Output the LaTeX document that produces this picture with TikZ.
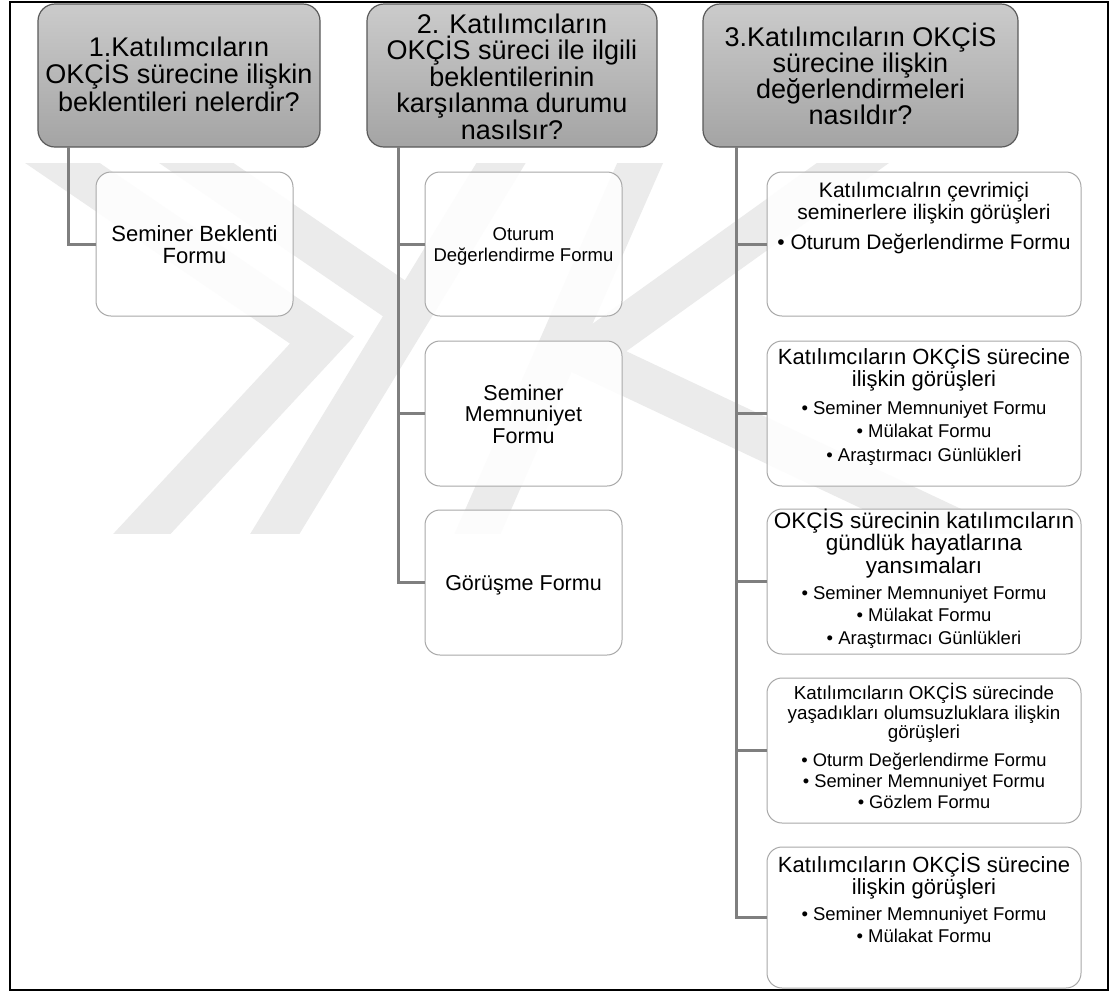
\documentclass[tikz,border=0pt]{standalone}
\usepackage{fontspec}
\setmainfont{Liberation Sans}
\definecolor{hdrtop}{HTML}{CBCBCB}
\definecolor{hdrbot}{HTML}{A4A4A4}
\definecolor{hdrline}{HTML}{5A5A5A}
\definecolor{kidline}{HTML}{A8A8A8}
\definecolor{connc}{HTML}{7F7F7F}
\definecolor{wm}{HTML}{EBEBEB}
\begin{document}
\begin{tikzpicture}[x=1pt,y=-1pt,
  hdr/.style={draw=hdrline, line width=1.2pt, rounded corners=17pt, top color=hdrtop, bottom color=hdrbot, inner sep=0pt},
  kid/.style={draw=kidline, line width=1pt, rounded corners=15pt, fill=white, fill opacity=0.85, inner sep=0pt},
  conn/.style={draw=connc, line width=3pt},
  wmk/.style={draw=wm, line width=42pt, line join=miter},
  tx/.style={anchor=base, inner sep=0pt, text=black},
  hf/.style={tx, font=\fontsize{27}{27}\selectfont},
  fa/.style={tx, font=\fontsize{22}{22}\selectfont},
  fb/.style={tx, font=\fontsize{18.5}{18.5}\selectfont},
  fc/.style={tx, font=\fontsize{21.5}{21.5}\selectfont},
  fd/.style={tx, font=\fontsize{21}{21}\selectfont},
  fe/.style={tx, font=\fontsize{22.5}{22.5}\selectfont},
  ff/.style={tx, font=\fontsize{18.8}{18.8}\selectfont},
  fg/.style={tx, font=\fontsize{18.3}{18.3}\selectfont}
]
\useasboundingbox (0,0) rectangle (1111,994);
\fill[white] (0,0) rectangle (1111,994);

% watermark
\begin{scope}
\clip (10,163) rectangle (1108,533);
\draw[wmk] (36,145) -- (322,340) -- (126,551);
\draw[wmk] (170,145) -- (411,310);
\draw[wmk] (265,550) -- (512,145);
\draw[wmk] (648,145) -- (470,551);
\draw[wmk] (878,145) -- (585,355) -- (1001,551);
\end{scope}

% outer frame
\draw[line width=1.5pt, black] (10,2) rectangle (1108,990);

% header boxes
\node[hdr, minimum width=282pt, minimum height=143pt] (h1) at (179,75.5) {};
\node[hdr, minimum width=290pt, minimum height=143pt] (h2) at (512,75.5) {};
\node[hdr, minimum width=315pt, minimum height=143pt] (h3) at (860.5,75.5) {};

% connector anchors
\coordinate (v1) at (68,147);
\coordinate (v2) at (398,147);
\coordinate (v3) at (736,147);

% child boxes
\node[kid, minimum width=197pt, minimum height=144pt] (c1) at (194.5,244) {};
\node[kid, minimum width=197pt, minimum height=144pt] (c2a) at (523.5,244) {};
\node[kid, minimum width=197pt, minimum height=145pt] (c2b) at (523.5,413.5) {};
\node[kid, minimum width=197pt, minimum height=145pt] (c2c) at (523.5,582.5) {};
\node[kid, minimum width=314pt, minimum height=144pt] (c3a) at (924,244) {};
\node[kid, minimum width=314pt, minimum height=145pt] (c3b) at (924,413.5) {};
\node[kid, minimum width=314pt, minimum height=145pt] (c3c) at (924,581.5) {};
\node[kid, minimum width=314pt, minimum height=145pt] (c3d) at (924,750.5) {};
\node[kid, minimum width=314pt, minimum height=141pt] (c3e) at (924,917.5) {};

% connectors
\draw[conn] (v1) |- (c1.west);
\draw[conn] (v2) |- (c2a.west);
\draw[conn] (v2) |- (c2b.west);
\draw[conn] (v2) |- (c2c.west);
\draw[conn] (v3) |- (c3a.west);
\draw[conn] (v3) |- (c3b.west);
\draw[conn] (v3) |- (c3c.west);
\draw[conn] (v3) |- (c3d.west);
\draw[conn] (v3) |- (c3e.west);

% header texts
\node[hf] (h1a) at (179,56) {1.Katılımcıların};
\node[hf] (h1b) at (179,83.5) {OKÇİS sürecine ilişkin};
\node[hf] (h1c) at (179,111) {beklentileri nelerdir?};

\node[hf] (h2a) at (512,33) {2. Katılımcıların};
\node[hf] (h2b) at (512,59.5) {OKÇİS süreci ile ilgili};
\node[hf] (h2c) at (512,86) {beklentilerinin};
\node[hf] (h2d) at (512,112.5) {karşılanma durumu};
\node[hf] (h2e) at (512,139) {nasılsır?};

\node[hf] (h3a) at (860.5,46) {3.Katılımcıların OKÇİS};
\node[hf] (h3b) at (860.5,72) {sürecine ilişkin};
\node[hf] (h3c) at (860.5,98) {değerlendirmeleri};
\node[hf] (h3d) at (860.5,124) {nasıldır?};

% column 1
\node[fa] (t1a) at (194.5,241) {Seminer Beklenti};
\node[fa] (t1b) at (194.5,263) {Formu};

% column 2
\node[fb] (t2a1) at (523.5,240) {Oturum};
\node[fb] (t2a2) at (523.5,261) {Değerlendirme Formu};
\node[fc] (t2b1) at (523.5,400) {Seminer};
\node[fc] (t2b2) at (523.5,421.5) {Memnuniyet};
\node[fc] (t2b3) at (523.5,443) {Formu};
\node[fc] (t2c1) at (523.5,590) {Görüşme Formu};

% column 3
\node[fd] (t3a1) at (924,197) {Katılımcıalrın çevrimiçi};
\node[fd] (t3a2) at (924,219) {seminerlere ilişkin görüşleri};
\node[fd] (t3a3) at (924,249) {• Oturum Değerlendirme Formu};

\node[fa] (t3b1) at (924,364.5) {Katılımcıların OKÇİS sürecine};
\node[fa] (t3b2) at (924,386.5) {ilişkin görüşleri};
\node[fb] (t3b3) at (924,414) {• Seminer Memnuniyet Formu};
\node[fb] (t3b4) at (924,437.5) {• Mülakat Formu};
\node[fb] (t3b5) at (924,461.5) {• Araştırmacı Günlükler{\fontsize{22}{22}\selectfont i}};

\node[fe] (t3c1) at (924,528) {OKÇİS sürecinin katılımcıların};
\node[fe] (t3c2) at (924,550.5) {gündlük hayatlarına};
\node[fe] (t3c3) at (924,573) {yansımaları};
\node[fb] (t3c4) at (924,599) {• Seminer Memnuniyet Formu};
\node[fb] (t3c5) at (924,621.5) {• Mülakat Formu};
\node[fb] (t3c6) at (924,644) {• Araştırmacı Günlükleri};

\node[ff] (t3d1) at (924,699) {Katılımcıların OKÇİS sürecinde};
\node[ff] (t3d2) at (924,719) {yaşadıkları olumsuzluklara ilişkin};
\node[ff] (t3d3) at (924,738.5) {görüşleri};
\node[fg] (t3d4) at (924,766.5) {• Oturm Değerlendirme Formu};
\node[fg] (t3d5) at (924,787) {• Seminer Memnuniyet Formu};
\node[fg] (t3d6) at (924,808.5) {• Gözlem Formu};

\node[fa] (t3e1) at (924,872) {Katılımcıların OKÇİS sürecine};
\node[fa] (t3e2) at (924,894) {ilişkin görüşleri};
\node[fb] (t3e3) at (924,920.5) {• Seminer Memnuniyet Formu};
\node[fb] (t3e4) at (924,942) {• Mülakat Formu};
\end{tikzpicture}
\end{document}
